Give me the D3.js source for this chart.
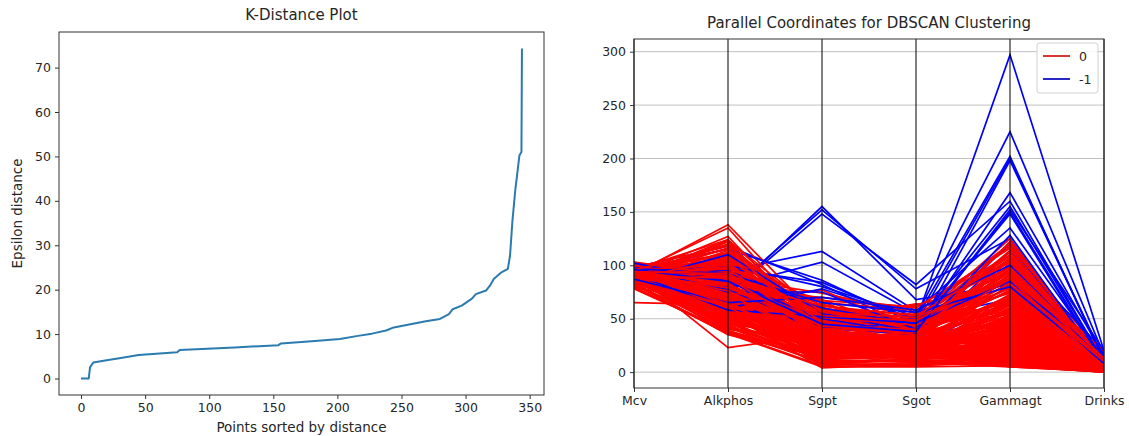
<!DOCTYPE html>
<html>
<head>
<meta charset="utf-8">
<script src="https://cdn.jsdelivr.net/npm/d3@7"></script>
<style>
  html, body { margin: 0; padding: 0; background: #fff; }
  svg text { font-family: "DejaVu Sans", sans-serif; fill: #262626; }
</style>
</head>
<body>
<svg id="chart" width="1129" height="436"></svg>
<script>
// ---------------- K-distance data (knots) ----------------
const kdIndex = [0, 6, 7, 9.5, 20, 31, 45, 75, 77, 120, 154, 156, 180, 202, 216, 227, 238, 244, 269, 280, 287, 290, 297, 305, 308, 316, 319, 322, 328, 333, 334.7, 336.6, 339, 340, 342, 343.6, 344];
const kdDist  = [0, 0, 2.5, 3.6, 4.1, 4.6, 5.3, 5.9, 6.4, 7.0, 7.5, 7.9, 8.4, 8.9, 9.6, 10.1, 10.8, 11.5, 12.9, 13.4, 14.5, 15.6, 16.4, 18.0, 19.0, 19.8, 20.9, 22.4, 23.9, 24.7, 27.7, 35.6, 43.0, 45.3, 50.2, 51.0, 74.3];
const kdXTicks = [0, 50, 100, 150, 200, 250, 300, 350];
const kdYTicks = [0, 10, 20, 30, 40, 50, 60, 70];

// ---------------- Parallel coordinates data ----------------
const dimensions = ["Mcv", "Alkphos", "Sgpt", "Sgot", "Gammagt", "Drinks"];
const clusterLabels = ["0", "-1"];
const clusterColors = ["red", "blue"];
const pcYTicks = [0, 50, 100, 150, 200, 250, 300];
// rows: Mcv, Alkphos, Sgpt, Sgot, Gammagt, Drinks, cluster
const records = [
[85,92,45,27,31,0,"0"],[85,64,59,32,23,0,"0"],[86,54,33,16,54,0,"0"],[91,78,34,24,36,0,"0"],
[87,70,12,28,10,0,"0"],[98,55,13,17,17,0,"0"],[88,62,20,17,9,0.5,"0"],[88,67,21,11,11,0.5,"0"],
[92,54,22,20,7,0.5,"0"],[90,60,25,19,5,0.5,"0"],[89,52,13,24,15,0.5,"0"],[82,62,17,17,15,0.5,"0"],
[90,64,61,32,13,0.5,"0"],[86,77,25,19,18,0.5,"0"],[96,67,29,20,11,0.5,"0"],[91,78,20,31,18,0.5,"0"],
[89,67,23,16,10,0.5,"0"],[89,79,17,17,16,0.5,"0"],[91,107,20,20,56,0.5,"0"],[94,116,11,33,11,0.5,"0"],
[92,59,35,13,19,0.5,"0"],[93,23,35,20,20,0.5,"0"],[90,60,23,27,5,0.5,"0"],[96,68,18,19,19,0.5,"0"],
[84,80,47,33,97,0.5,"0"],[92,70,24,13,26,0.5,"0"],[90,47,28,15,18,0.5,"0"],[88,66,20,21,10,0.5,"0"],
[91,102,17,13,19,0.5,"0"],[87,41,31,19,16,0.5,"0"],[86,79,28,16,17,0.5,"0"],[91,57,31,23,42,0.5,"0"],
[93,77,32,18,29,0.5,"0"],[88,96,28,21,40,0.5,"0"],[94,65,22,18,11,0.5,"0"],
[91,72,155,68,82,0.5,"-1"],
[85,54,47,33,22,0.5,"0"],[79,39,14,19,9,0.5,"0"],[85,85,25,26,30,0.5,"0"],[89,63,24,20,38,0.5,"0"],
[84,92,68,37,44,0.5,"0"],[89,68,26,39,42,0.5,"0"],[89,101,18,25,13,0.5,"0"],[86,84,18,14,16,0.5,"0"],
[98,118,82,40,120,7,"-1"],
[85,65,25,14,18,0.5,"0"],[88,61,19,21,13,0.5,"0"],[92,56,14,16,10,0.5,"0"],[95,50,29,25,50,0.5,"0"],
[91,75,24,22,11,0.5,"0"],[83,40,29,25,38,0.5,"0"],[89,74,19,23,16,0.5,"0"],[85,64,24,22,11,0.5,"0"],
[90,75,35,50,68,10,"-1"],
[92,57,64,36,90,0.5,"0"],[94,48,11,23,43,0.5,"0"],[87,52,21,19,30,0.5,"0"],[85,65,23,29,15,0.5,"0"],
[84,82,21,21,19,0.5,"0"],[88,49,20,22,19,0.5,"0"],[96,67,26,26,36,0.5,"0"],[90,63,24,24,24,0.5,"0"],
[93,75,152,78,125,8,"-1"],
[90,45,33,34,27,0.5,"0"],[90,72,14,15,18,0.5,"0"],[91,55,4,8,13,0.5,"0"],[91,52,15,22,11,0.5,"0"],
[87,71,32,19,27,1,"0"],[89,77,26,20,19,1,"0"],[89,67,5,17,14,1,"0"],[85,51,26,24,23,1,"0"],
[94,100,28,27,65,16,"-1"],
[103,75,19,30,13,1,"0"],[90,63,16,21,14,1,"0"],[90,63,29,23,57,2,"0"],[90,67,35,19,35,2,"0"],
[87,66,27,22,9,2,"0"],[90,73,34,21,22,2,"0"],[86,54,20,21,16,2,"0"],[90,80,19,14,42,2,"0"],
[95,73,148,82,160,10,"-1"],
[93,84,58,47,62,2,"0"],[88,83,35,28,38,2,"0"],[97,71,29,22,52,8,"0"],[84,99,33,19,26,8,"0"],
[96,44,42,23,73,8,"0"],[90,62,22,21,21,8,"0"],[92,94,18,17,6,8,"0"],[90,67,77,39,114,8,"0"],
[88,96,38,30,122,10,"-1"],
[97,93,21,20,68,6,"0"],[91,64,21,17,26,6,"0"],[87,70,25,21,27,6,"0"],[91,51,42,37,76,6,"0"],
[92,70,33,45,54,6,"0"],[92,88,66,32,47,6,"0"],[93,67,29,17,33,6,"0"],[89,92,26,23,63,6,"0"],
[90,95,113,57,135,12,"-1"],
[90,82,48,42,82,6,"0"],[98,102,31,26,107,9,"0"],[94,91,27,20,15,10,"0"],[86,57,31,17,60,10,"0"],
[95,80,50,64,55,10,"0"],[92,108,53,33,94,12,"0"],[97,92,22,28,49,12,"0"],[93,104,39,24,71,12,"0"],
[92,80,103,55,118,6,"-1"],
[91,105,37,29,102,12,"0"],[95,93,21,27,47,12,"0"],[85,46,33,22,42,12,"0"],[96,74,27,25,43,16,"0"],
[92,138,48,50,106,16,"0"],[100,100,60,48,118,16,"0"],[99,98,57,45,65,20,"0"],[86,109,16,22,28,6,"0"],
[100,90,30,28,113,20,"-1"],
[93,135,37,33,122,8,"0"],[85,122,28,34,88,10,"0"],[88,123,54,45,110,4,"0"],[91,120,45,41,100,3,"0"],
[98,118,30,33,80,5,"0"],[92,112,42,36,95,4,"0"],[80,36,19,15,8,0,"0"],[83,35,14,14,12,0,"0"],
[96,115,86,45,200,12,"-1"],
[78,38,10,10,7,1,"0"],[81,45,18,16,9,1,"0"],[65,63,20,17,12,0.5,"0"],[84,52,12,9,7,0,"0"],
[82,36,5,5,6,0,"0"],[86,42,8,7,10,1,"0"],[88,37,6,9,5,2,"0"],[87,44,11,10,14,0.5,"0"],
[93,62,45,42,148,6,"-1"],
[94,58,21,18,26,2,"0"],[96,69,25,25,58,2,"0"],[100,73,43,34,91,4,"0"],[101,86,52,40,75,6,"0"],
[102,96,38,30,66,3,"0"],[99,110,62,50,112,6,"0"],[95,88,74,55,120,10,"0"],[93,77,70,60,116,8,"0"],
[89,97,84,48,297,20,"-1"],
[98,95,55,52,108,12,"0"],[89,66,46,63,85,4,"0"],[90,104,65,58,98,10,"0"],[91,119,40,44,93,14,"0"],
[94,111,36,39,104,18,"0"],[97,85,47,47,125,7,"0"],[87,78,26,30,70,5,"0"],[83,69,18,24,45,3,"0"],
[95,77,42,35,128,6,"-1"],
[85,58,30,27,32,1,"0"],[92,74,41,28,53,4,"0"],[93,53,24,29,40,2,"0"],[95,90,56,38,67,5,"0"],
[91,68,49,46,78,7,"0"],[89,99,58,41,86,9,"0"],[88,91,44,35,60,6,"0"],[86,72,36,32,48,4,"0"],
[94,100,80,52,225,16,"-1"],
[84,88,29,26,37,3,"0"],[100,65,32,37,55,3,"0"],[98,61,39,31,62,2,"0"],[97,59,27,28,34,1,"0"],
[90,49,21,16,20,0.5,"0"],[87,46,16,13,12,0,"0"],[92,42,13,12,16,0.5,"0"],[94,81,52,43,88,6,"0"],
[97,60,78,50,202,10,"-1"],
[89,116,50,36,101,5,"0"],[91,127,35,30,97,3,"0"],[96,124,44,39,113,9,"0"],[93,98,59,54,103,14,"0"],
[90,94,63,47,96,20,"0"],[92,87,67,61,109,11,"0"],[88,76,54,49,74,8,"0"],[86,82,39,42,57,5,"0"],
[99,75,75,40,168,15,"-1"],
[85,57,23,31,28,2,"0"],[80,60,18,21,17,1,"0"],[82,73,27,23,24,1,"0"],[96,109,31,19,46,4,"0"],
[95,83,37,23,82,3,"0"],[93,96,45,29,92,5,"0"],[99,103,29,24,59,4,"0"],[101,83,25,27,51,6,"0"],
[91,95,60,45,155,10,"-1"],
[103,91,48,36,70,7,"0"],[84,114,24,18,31,2,"0"],[87,101,33,20,39,3,"0"],[89,124,22,28,64,4,"0"],
[91,60,8,11,8,0,"0"],[94,47,7,6,9,0.5,"0"],[86,39,9,12,6,0,"0"],[90,43,15,18,22,0.5,"0"],
[86,110,55,38,150,8,"-1"],
[92,66,18,25,30,1,"0"],[88,58,28,20,44,2,"0"],[90,86,40,31,72,4,"0"],[93,70,46,38,79,3,"0"],
[102,85,50,36,198,12,"-1"],
[87,62,32,26,50,2,"0"],[95,76,35,33,84,5,"0"],[91,89,51,44,90,8,"0"],[84,55,22,19,25,1,"0"],
[92,58,52,46,85,15,"-1"],
[96,100,44,40,99,7,"0"],[89,81,38,29,64,3,"0"],[94,63,27,21,35,1,"0"],[87,94,56,51,94,9,"0"],
[97,92,65,56,80,8,"-1"],
[90,71,30,26,46,2,"0"],[88,106,47,35,76,6,"0"],[92,79,43,39,68,4,"0"],[86,61,17,15,14,0.5,"0"],
[87,65,70,58,100,12,"-1"],
[96,115,41,37,87,5,"0"],[91,97,34,27,58,3,"0"],[93,85,62,53,105,11,"0"],[89,73,31,30,41,2,"0"],
[96,85,45,38,152,20,"-1"],
[90,88,36,34,77,6,"0"],[85,50,19,18,20,1,"0"],[94,92,53,48,98,13,"0"],[92,64,26,24,33,1,"0"]
];

// ---------------- Drawing ----------------
const svg = d3.select("#chart");

// ===== Left: K-distance plot =====
const L = { left: 59, right: 544, top: 32, bottom: 395 };
const xExt = d3.extent(kdIndex), yExt = d3.extent(kdDist);
const xPad = (xExt[1] - xExt[0]) * 0.05, yPad = (yExt[1] - yExt[0]) * 0.05;
const kx = d3.scaleLinear().domain([xExt[0] - xPad, xExt[1] + xPad]).range([L.left, L.right]);
const ky = d3.scaleLinear().domain([yExt[0] - yPad, yExt[1] + yPad]).range([L.bottom, L.top]);

const gL = svg.append("g");
const kdPts = kdIndex.map((v, i) => [v, kdDist[i]]);
gL.append("path")
  .attr("d", d3.line().x(d => kx(d[0])).y(d => ky(d[1]))(kdPts))
  .attr("fill", "none").attr("stroke", "#2b7bb0").attr("stroke-width", 2)
  .attr("stroke-linejoin", "round");

gL.append("rect").attr("x", L.left).attr("y", L.top)
  .attr("width", L.right - L.left).attr("height", L.bottom - L.top)
  .attr("fill", "none").attr("stroke", "#333").attr("stroke-width", 1);

const axBL = gL.append("g").attr("transform", `translate(0,${L.bottom})`)
  .call(d3.axisBottom(kx).tickValues(kdXTicks).tickSize(4).tickPadding(4).tickFormat(d3.format("d")));
const axLL = gL.append("g").attr("transform", `translate(${L.left},0)`)
  .call(d3.axisLeft(ky).tickValues(kdYTicks).tickSize(4).tickPadding(4).tickFormat(d3.format("d")));
[axBL, axLL].forEach(a => {
  a.select(".domain").remove();
  a.selectAll(".tick line").attr("stroke", "#333");
  a.selectAll(".tick text").attr("font-size", 12.5).attr("fill", "#262626")
    .style("font-family", "DejaVu Sans, sans-serif");
});

gL.append("text").attr("x", (L.left + L.right) / 2).attr("y", 20)
  .attr("text-anchor", "middle").attr("font-size", 15).text("K-Distance Plot");
gL.append("text").attr("x", (L.left + L.right) / 2).attr("y", 432)
  .attr("text-anchor", "middle").attr("font-size", 13.5).text("Points sorted by distance");
gL.append("text").attr("transform", `translate(22,${(L.top + L.bottom) / 2}) rotate(-90)`)
  .attr("text-anchor", "middle").attr("font-size", 13.5).text("Epsilon distance");

// ===== Right: parallel coordinates =====
const R = { left: 634, right: 1104, top: 39, bottom: 388 };
const allVals = records.flatMap(r => r.slice(0, 6));
const vMin = d3.min(allVals), vMax = d3.max(allVals);
const vPad = (vMax - vMin) * 0.05;
const px = d3.scalePoint().domain(dimensions).range([R.left, R.right]);
const py = d3.scaleLinear().domain([vMin - vPad, vMax + vPad]).range([R.bottom, R.top]);
const colorOf = d3.scaleOrdinal().domain(clusterLabels).range(clusterColors);

const gR = svg.append("g");
const defs = svg.append("defs");
defs.append("clipPath").attr("id", "pcclip").append("rect")
  .attr("x", R.left).attr("y", R.top).attr("width", R.right - R.left).attr("height", R.bottom - R.top);

// horizontal grid
gR.append("g").selectAll("line").data(pcYTicks).join("line")
  .attr("x1", R.left).attr("x2", R.right)
  .attr("y1", d => py(d)).attr("y2", d => py(d))
  .attr("stroke", "#b0b0b0").attr("stroke-width", 0.8);

// lines
const pcLine = d3.line().x(d => px(d[0])).y(d => py(d[1]));
gR.append("g").attr("clip-path", "url(#pcclip)")
  .selectAll("path").data(records).join("path")
  .attr("d", r => pcLine(dimensions.map((dim, i) => [dim, r[i]])))
  .attr("fill", "none")
  .attr("stroke", r => colorOf(r[6]))
  .attr("stroke-width", 1.7)
  .attr("stroke-linejoin", "miter");

// vertical axis lines
gR.append("g").selectAll("line").data(dimensions).join("line")
  .attr("x1", d => px(d)).attr("x2", d => px(d))
  .attr("y1", R.top).attr("y2", R.bottom)
  .attr("stroke", "#000").attr("stroke-width", 1);

gR.append("rect").attr("x", R.left).attr("y", R.top)
  .attr("width", R.right - R.left).attr("height", R.bottom - R.top)
  .attr("fill", "none").attr("stroke", "#333").attr("stroke-width", 1);

const axBR = gR.append("g").attr("transform", `translate(0,${R.bottom})`)
  .call(d3.axisBottom(px).tickSize(4).tickPadding(4));
const axLR = gR.append("g").attr("transform", `translate(${R.left},0)`)
  .call(d3.axisLeft(py).tickValues(pcYTicks).tickSize(4).tickPadding(4).tickFormat(d3.format("d")));
[axBR, axLR].forEach(a => {
  a.select(".domain").remove();
  a.selectAll(".tick line").attr("stroke", "#333");
  a.selectAll(".tick text").attr("font-size", 12.5).attr("fill", "#262626")
    .style("font-family", "DejaVu Sans, sans-serif");
});

gR.append("text").attr("x", (R.left + R.right) / 2).attr("y", 28)
  .attr("text-anchor", "middle").attr("font-size", 15).text("Parallel Coordinates for DBSCAN Clustering");

// legend
const lg = gR.append("g").attr("transform", "translate(1037,43)");
lg.append("rect").attr("x", 0).attr("y", 0).attr("width", 61).attr("height", 50).attr("rx", 3)
  .attr("fill", "#fff").attr("fill-opacity", 0.85).attr("stroke", "#d0d0d0");
clusterLabels.forEach((lab, i) => {
  const yy = 13 + i * 23;
  lg.append("line").attr("x1", 6).attr("x2", 33).attr("y1", yy).attr("y2", yy)
    .attr("stroke", clusterColors[i] === "red" ? "#d62020" : "#1010c0").attr("stroke-width", 1.8);
  lg.append("text").attr("x", 42).attr("y", yy + 4.5).attr("font-size", 12.5).text(lab);
});
</script>
</body>
</html>
